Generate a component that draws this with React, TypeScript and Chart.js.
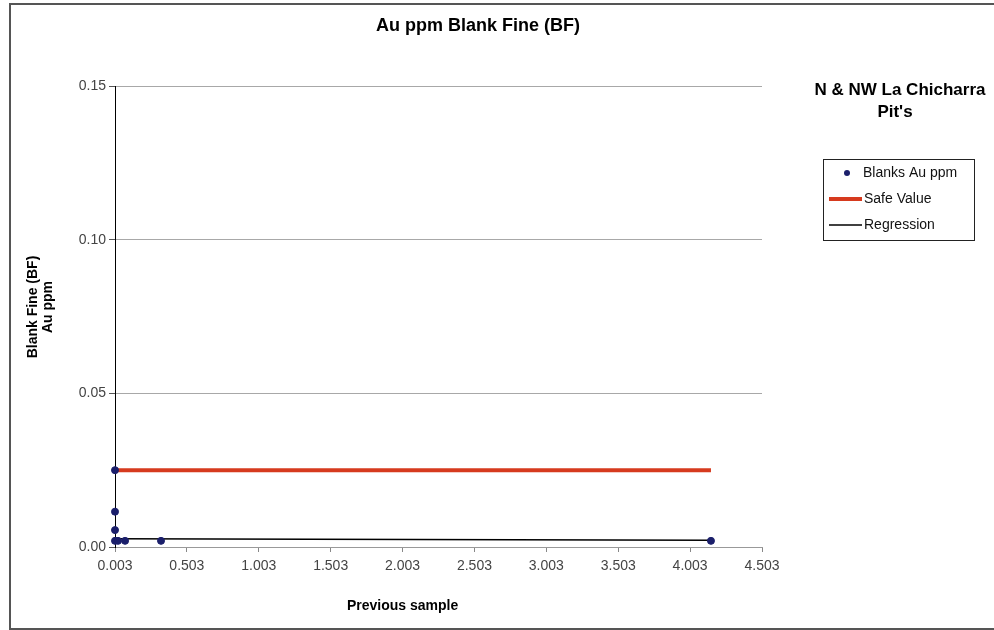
import React, { useEffect, useRef } from "react";
import { Chart, registerables } from "chart.js";

Chart.register(...registerables);

const chartTitle = "Au ppm Blank Fine (BF)";
const sideLabel = ["N & NW La Chicharra", "Pit's"];
const yTitle = ["Blank Fine (BF)", "Au ppm"];
const xTitle = "Previous sample";
const legendLabels = ["Blanks Au ppm", "Safe Value", "Regression"];

const blankX = [0.003, 0.003, 0.003, 0.003, 0.024, 0.073, 0.323, 4.148];
const blankY = [0.025, 0.0115, 0.0055, 0.002, 0.002, 0.002, 0.002, 0.002];

const safeX = [0.003, 4.148];
const safeY = [0.025, 0.025];

const regX = [0.003, 4.148];
const regY = [0.0027, 0.0022];

const xTicks = [0.003, 0.503, 1.003, 1.503, 2.003, 2.503, 3.003, 3.503, 4.003, 4.503];
const yTicks = [0, 0.05, 0.1, 0.15];

const FONT = "'Liberation Sans', Arial, sans-serif";
const POINT_COLOR = "#1b1f6b";
const SAFE_COLOR = "#d63a1e";

const zip = (xs: number[], ys: number[]) => xs.map((x, i) => ({ x, y: ys[i] }));

const decorPlugin = {
  id: "decor",
  afterDraw(chart: any) {
    const ctx = chart.ctx as CanvasRenderingContext2D;
    ctx.save();
    // outer border
    ctx.strokeStyle = "#555";
    ctx.lineWidth = 2;
    ctx.strokeRect(10, 4, 1000, 625);

    ctx.fillStyle = "#000";
    ctx.textAlign = "center";
    ctx.textBaseline = "middle";
    ctx.font = `bold 18px ${FONT}`;
    ctx.fillText(chartTitle, 478, 26);

    ctx.font = `bold 17px ${FONT}`;
    ctx.fillText(sideLabel[0], 900, 90);
    ctx.fillText(sideLabel[1], 895, 112);

    // axis titles
    ctx.font = `bold 14px ${FONT}`;
    ctx.textAlign = "left";
    ctx.fillText(xTitle, 347, 606);
    ctx.save();
    ctx.translate(33, 307);
    ctx.rotate(-Math.PI / 2);
    ctx.textAlign = "center";
    ctx.fillText(yTitle[0], 0, 0);
    ctx.fillText(yTitle[1], 0, 15);
    ctx.restore();

    // legend
    ctx.strokeStyle = "#222";
    ctx.lineWidth = 1;
    ctx.strokeRect(823.5, 159.5, 151, 81);
    ctx.font = `14px ${FONT}`;
    ctx.textAlign = "left";
    ctx.fillStyle = "#111";
    const rows = [173, 199, 225];
    ctx.fillText(legendLabels[0], 863, rows[0]);
    ctx.fillText(legendLabels[1], 864, rows[1]);
    ctx.fillText(legendLabels[2], 864, rows[2]);
    ctx.beginPath();
    ctx.fillStyle = POINT_COLOR;
    ctx.arc(847, rows[0], 3, 0, Math.PI * 2);
    ctx.fill();
    ctx.strokeStyle = SAFE_COLOR;
    ctx.lineWidth = 4;
    ctx.beginPath();
    ctx.moveTo(829, rows[1]);
    ctx.lineTo(862, rows[1]);
    ctx.stroke();
    ctx.strokeStyle = "#000";
    ctx.lineWidth = 1.5;
    ctx.beginPath();
    ctx.moveTo(829, rows[2]);
    ctx.lineTo(862, rows[2]);
    ctx.stroke();
    ctx.restore();
  },
};

export default function App() {
  const ref = useRef<HTMLCanvasElement>(null);
  useEffect(() => {
    if (!ref.current) return;
    const chart = new Chart(ref.current, {
      type: "scatter",
      data: {
        datasets: [
          {
            label: legendLabels[0],
            data: zip(blankX, blankY),
            backgroundColor: POINT_COLOR,
            borderColor: POINT_COLOR,
            pointRadius: 3.5,
            showLine: false,
            clip: false,
          },
          {
            label: legendLabels[1],
            data: zip(safeX, safeY),
            borderColor: SAFE_COLOR,
            borderWidth: 4,
            pointRadius: 0,
            showLine: true,
            clip: false,
          },
          {
            label: legendLabels[2],
            data: zip(regX, regY),
            borderColor: "#000",
            borderWidth: 1.5,
            pointRadius: 0,
            showLine: true,
            clip: false,
          },
        ],
      },
      options: {
        animation: false,
        responsive: false,
        devicePixelRatio: 1,
        layout: { padding: { left: 0, right: 232, top: 86, bottom: 0 } },
        plugins: {
          legend: { display: false },
          title: { display: false },
          tooltip: { enabled: false },
        },
        scales: {
          x: {
            type: "linear",
            min: xTicks[0],
            max: xTicks[xTicks.length - 1],
            afterBuildTicks: (scale: any) => {
              scale.ticks = xTicks.map((v) => ({ value: v }));
            },
            afterFit: (scale: any) => {
              scale.height = 83;
            },
            grid: {
              drawOnChartArea: false,
              drawTicks: true,
              tickLength: 5,
              tickColor: "#888",
            },
            border: { color: "#999", width: 1 },
            ticks: {
              padding: 6,
              color: "#444",
              font: { family: FONT, size: 14 },
              maxRotation: 0,
              autoSkip: false,
              callback: (v: any) => Number(v).toFixed(3),
            },
          },
          y: {
            type: "linear",
            min: yTicks[0],
            max: yTicks[yTicks.length - 1],
            afterBuildTicks: (scale: any) => {
              scale.ticks = yTicks.map((v) => ({ value: v }));
            },
            afterFit: (scale: any) => {
              scale.width = 115;
            },
            grid: {
              color: "#a8a8a8",
              lineWidth: 1,
              drawTicks: true,
              tickLength: 6,
              tickColor: "#555",
            },
            border: { color: "#000", width: 1 },
            ticks: {
              padding: 3,
              color: "#444",
              font: { family: FONT, size: 14 },
              callback: (v: any) => Number(v).toFixed(2),
            },
          },
        },
      },
      plugins: [decorPlugin],
    } as any);
    return () => chart.destroy();
  }, []);
  return (
    <div style={{ position: "fixed", left: 0, top: 0, width: 994, height: 630, background: "#fff" }}>
      <canvas ref={ref} width={994} height={630} style={{ display: "block" }} />
    </div>
  );
}
